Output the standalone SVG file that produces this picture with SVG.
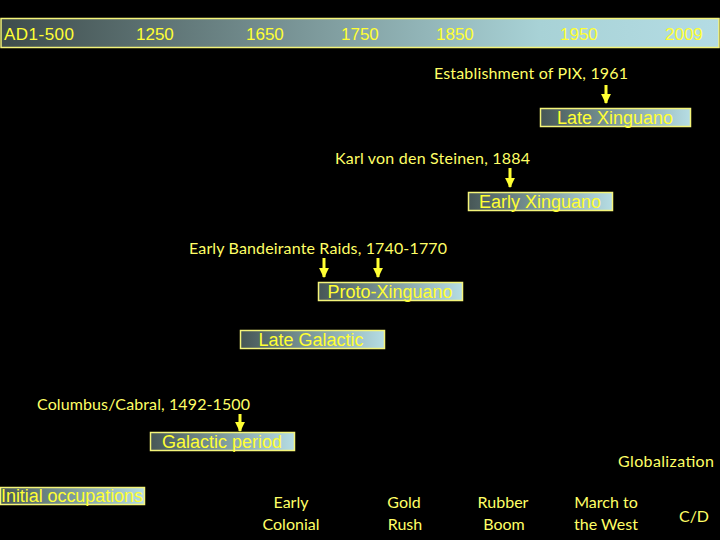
<svg xmlns="http://www.w3.org/2000/svg" width="720" height="540" viewBox="0 0 720 540">
<defs>
<linearGradient id="g" x1="0" y1="0" x2="1" y2="0">
<stop offset="0" stop-color="#465656"/>
<stop offset="0.5" stop-color="#7d9a9c"/>
<stop offset="1" stop-color="#b6dde4"/>
</linearGradient>
<linearGradient id="gt" x1="0" y1="0" x2="1" y2="0">
<stop offset="0" stop-color="#3e4c4c"/>
<stop offset="0.45" stop-color="#7f9c9e"/>
<stop offset="0.75" stop-color="#a8d2d6"/>
<stop offset="1" stop-color="#b4dce4"/>
</linearGradient>
<marker id="ah" viewBox="0 0 10 10" refX="9" refY="5" markerWidth="3.3" markerHeight="3.3" orient="auto" markerUnits="strokeWidth">
<path d="M0,0 L10,5 L0,10 Z" fill="#ffff33"/>
</marker>
</defs>
<style>
.box{fill:url(#g);stroke:#f4f47a;stroke-width:1.5}
.bt{font-family:"Liberation Sans",Arial,sans-serif;font-size:18px;fill:#ffff33;text-anchor:middle}
.tl{font-family:"Liberation Sans",Arial,sans-serif;font-size:17px;fill:#ffff33}
.ev{font-family:Lato,"Open Sans",sans-serif;font-size:16px;fill:#ffff66}
.lb{font-family:Lato,"Open Sans",sans-serif;font-size:16px;fill:#ffff66;text-anchor:middle}
.ar{stroke:#ffff33;stroke-width:3;fill:none}
</style>
<rect width="720" height="540" fill="#000"/>
<g id="timeline">
<rect x="1" y="18.5" width="718" height="29" fill="url(#gt)" stroke="#f4f47a" stroke-width="1.5"/>
<text class="tl" x="4" y="40" textLength="70">AD1-500</text>
<text class="tl" x="136" y="40">1250</text>
<text class="tl" x="246" y="40">1650</text>
<text class="tl" x="341" y="40">1750</text>
<text class="tl" x="436" y="40">1850</text>
<text class="tl" x="560" y="40">1950</text>
<text class="tl" x="665" y="40">2009</text>
</g>
<g id="late-xinguano">
<rect class="box" x="540.5" y="108.5" width="150" height="18"/>
<text class="bt" x="615" y="124">Late Xinguano</text>
</g>
<g id="early-xinguano">
<rect class="box" x="468.5" y="192.5" width="144" height="18"/>
<text class="bt" x="540" y="208">Early Xinguano</text>
</g>
<g id="proto-xinguano">
<rect class="box" x="318.5" y="282.5" width="144" height="18"/>
<text class="bt" x="390" y="298">Proto-Xinguano</text>
</g>
<g id="late-galactic">
<rect class="box" x="240.5" y="330.5" width="144" height="18"/>
<text class="bt" x="311" y="346">Late Galactic</text>
</g>
<g id="galactic-period">
<rect class="box" x="150.5" y="432.5" width="144" height="18"/>
<text class="bt" x="222" y="448">Galactic period</text>
</g>
<g id="initial-occupations">
<rect class="box" x="0.5" y="487.5" width="144" height="17"/>
<text class="bt" x="72" y="502" textLength="142">Initial occupations</text>
</g>
<g id="events">
<text class="ev" x="434" y="79" textLength="194">Establishment of PIX, 1961</text>
<text class="ev" x="335" y="164" textLength="195">Karl von den Steinen, 1884</text>
<text class="ev" x="189" y="254" textLength="258">Early Bandeirante Raids, 1740-1770</text>
<text class="ev" x="37" y="410" textLength="213">Columbus/Cabral, 1492-1500</text>
<text class="ev" x="618" y="467" textLength="96">Globalization</text>
</g>
<g id="periods">
<text class="lb" x="291" y="508">Early</text>
<text class="lb" x="291" y="530">Colonial</text>
<text class="lb" x="404" y="508">Gold</text>
<text class="lb" x="405" y="530">Rush</text>
<text class="lb" x="503" y="508">Rubber</text>
<text class="lb" x="504" y="530">Boom</text>
<text class="lb" x="606" y="508">March to</text>
<text class="lb" x="606" y="530">the West</text>
<text class="lb" x="694" y="522">C/D</text>
</g>
<g id="connectors">
<line class="ar" x1="606" y1="85" x2="606" y2="103" marker-end="url(#ah)"/>
<line class="ar" x1="510" y1="168" x2="510" y2="187" marker-end="url(#ah)"/>
<line class="ar" x1="324" y1="258" x2="324" y2="277" marker-end="url(#ah)"/>
<line class="ar" x1="378" y1="258" x2="378" y2="277" marker-end="url(#ah)"/>
<line class="ar" x1="240" y1="414" x2="240" y2="431" marker-end="url(#ah)"/>
</g>
</svg>
